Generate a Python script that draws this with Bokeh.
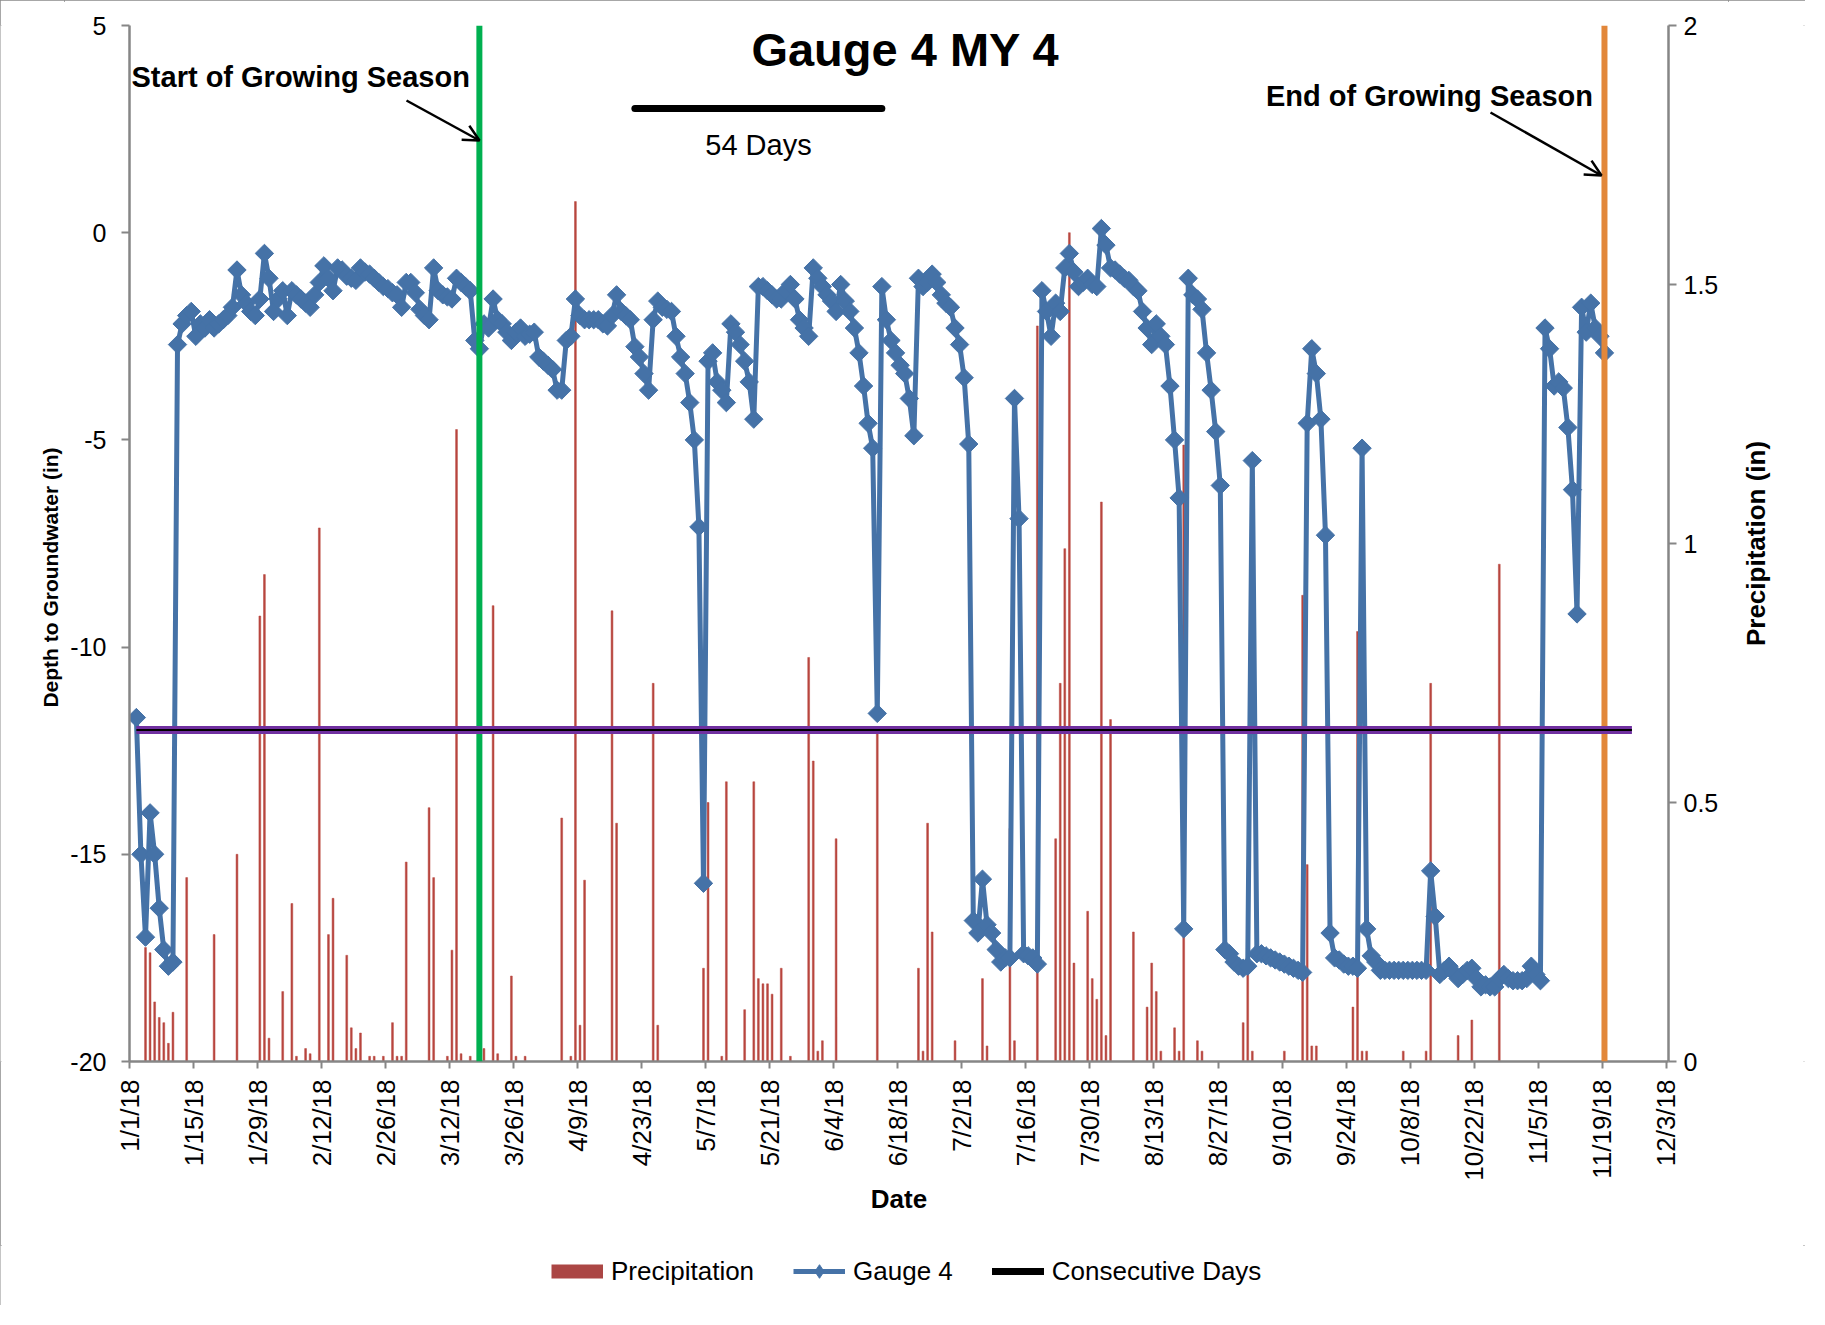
import math
from datetime import date

from bokeh.plotting import figure
from bokeh.layouts import column, row
from bokeh.models import (Range1d, LinearAxis, FixedTicker, PrintfTickFormatter, Span, Label,
                          Arrow, OpenHead, Legend, LegendItem)
from bokeh.embed import file_html
from bokeh.resources import INLINE

# ---------------- data ----------------
YEAR_START = date(2018, 1, 1)

x_tick_labels = ["1/1/18", "1/15/18", "1/29/18", "2/12/18", "2/26/18", "3/12/18", "3/26/18",
                 "4/9/18", "4/23/18", "5/7/18", "5/21/18", "6/4/18", "6/18/18", "7/2/18",
                 "7/16/18", "7/30/18", "8/13/18", "8/27/18", "9/10/18", "9/24/18", "10/8/18",
                 "10/22/18", "11/5/18", "11/19/18", "12/3/18"]
depth_ticks = [-20, -15, -10, -5, 0, 5]
precip_ticks = [0, 0.5, 1, 1.5, 2]

# Gauge 4 depth to groundwater (in), one reading per day starting 1/2/18
gauge_start = "1/2/18"
gauge_depth = [
    -11.7, -15.0, -17.0, -14.0, -15.0, -16.3, -17.3, -17.7, -17.6, -2.7,
    -2.2, -2.0, -1.9, -2.5, -2.2, -2.3, -2.1, -2.3, -2.2, -2.1,
    -2.0, -1.8, -0.9, -1.5, -1.7, -1.9, -2.0, -1.6, -0.5, -1.1,
    -1.9, -1.6, -1.4, -2.0, -1.4, -1.5, -1.6, -1.7, -1.8, -1.5,
    -1.2, -0.8, -1.1, -1.4, -0.85, -0.9, -1.05, -1.1, -1.15, -0.85,
    -0.95, -1.0, -1.1, -1.2, -1.3, -1.35, -1.45, -1.5, -1.8, -1.2,
    -1.2, -1.45, -1.85, -2.0, -2.1, -0.85, -1.4, -1.5, -1.55, -1.6,
    -1.1, -1.2, -1.3, -1.4, -2.6, -2.8, -2.2, -2.3, -1.6, -2.1,
    -2.2, -2.4, -2.6, -2.4, -2.3, -2.5, -2.45, -2.4, -3.0, -3.1,
    -3.2, -3.3, -3.8, -3.8, -2.6, -2.5, -1.6, -2.0, -2.1, -2.1,
    -2.1, -2.1, -2.2, -2.25, -2.0, -1.5, -1.9, -2.0, -2.1, -2.75,
    -3.0, -3.4, -3.8, -2.1, -1.65, -1.8, -1.85, -1.9, -2.5, -3.0,
    -3.4, -4.1, -5.0, -7.1, -15.7, -3.1, -2.9, -3.6, -3.8, -4.1,
    -2.2, -2.4, -2.7, -3.1, -3.6, -4.5, -1.3, -1.3, -1.4, -1.5,
    -1.6, -1.6, -1.4, -1.25, -1.6, -2.1, -2.3, -2.5, -0.85, -1.1,
    -1.3, -1.5, -1.65, -1.9, -1.25, -1.65, -1.9, -2.3, -2.9, -3.7,
    -4.6, -5.2, -11.6, -1.3, -2.1, -2.6, -2.9, -3.2, -3.4, -4.0,
    -4.9, -1.1, -1.3, -1.2, -1.0, -1.2, -1.5, -1.7, -1.8, -2.3,
    -2.7, -3.5, -5.1, -16.6, -16.9, -15.6, -16.7, -16.9, -17.3, -17.6,
    -17.5, -17.5, -4.0, -6.9, -17.4, -17.45, -17.5, -17.65, -1.4, -1.9,
    -2.5, -1.7, -1.9, -0.85, -0.5, -0.95, -1.3, -1.2, -1.1, -1.25,
    -1.3, 0.1, -0.3, -0.85, -0.9, -1.0, -1.1, -1.15, -1.3, -1.4,
    -1.9, -2.3, -2.7, -2.2, -2.5, -2.7, -3.7, -5.0, -6.4, -16.8,
    -1.1, -1.5, -1.6, -1.85, -2.9, -3.8, -4.8, -6.1, -17.3, -17.4,
    -17.6, -17.7, -17.75, -17.7, -5.5, -17.4, -17.4, -17.45, -17.5, -17.55,
    -17.6, -17.65, -17.7, -17.75, -17.8, -17.85, -4.6, -2.8, -3.4, -4.5,
    -7.3, -16.9, -17.5, -17.55, -17.65, -17.7, -17.7, -17.75, -5.2, -16.8,
    -17.45, -17.6, -17.8, -17.8, -17.8, -17.8, -17.8, -17.8, -17.8, -17.8,
    -17.8, -17.8, -17.8, -15.4, -16.5, -17.9, -17.8, -17.7, -17.85, -18.0,
    -17.9, -17.8, -17.75, -18.0, -18.2, -18.15, -18.2, -18.2, -18.0, -17.9,
    -18.0, -18.05, -18.05, -18.05, -18.0, -17.7, -17.9, -18.05, -2.3, -2.8,
    -3.7, -3.6, -3.75, -4.7, -6.2, -9.2, -1.8, -2.4, -1.7, -2.3,
    -2.5, -2.9,
]

# Daily precipitation (in); day of year counted from 1/1/18 = 0
precip_day = [3, 4, 5, 6, 7, 8, 9, 12, 18, 23, 28, 29, 30, 33, 35, 36, 38, 39, 41, 43, 44,
              47, 48, 49, 50, 52, 53, 55, 57, 58, 59, 60, 65, 66, 69, 70, 71, 72, 74, 77, 79,
              80, 83, 84, 86, 94, 96, 97, 98, 99, 105, 106, 114, 115, 125, 126, 129, 130, 134,
              136, 137, 138, 139, 140, 142, 144, 148, 149, 150, 151, 154, 163, 172, 173, 174,
              175, 180, 186, 187, 192, 193, 198, 202, 203, 204, 205, 206, 209, 210, 211, 212,
              213, 214, 219, 222, 223, 224, 225, 228, 229, 230, 233, 234, 243, 244, 245, 252,
              256, 257, 258, 259, 267, 268, 269, 270, 278, 283, 284, 290, 293, 299]
precip_in = [0.22, 0.21, 0.115, 0.085, 0.075, 0.035, 0.095, 0.355, 0.245, 0.40, 0.86, 0.94,
             0.045, 0.135, 0.305, 0.01, 0.025, 0.015, 1.03, 0.245, 0.315, 0.205, 0.065, 0.025,
             0.055, 0.01, 0.01, 0.01, 0.075, 0.01, 0.01, 0.385, 0.49, 0.355, 0.01, 0.215, 1.22,
             0.015, 0.01, 0.025, 0.88, 0.015, 0.165, 0.01, 0.01, 0.47, 0.01, 1.66, 0.07, 0.35,
             0.87, 0.46, 0.73, 0.07, 0.18, 0.50, 0.01, 0.54, 0.10, 0.54, 0.16, 0.15, 0.15, 0.13,
             0.18, 0.01, 0.78, 0.58, 0.02, 0.04, 0.43, 0.64, 0.18, 0.02, 0.46, 0.25, 0.04, 0.16,
             0.03, 0.45, 0.04, 1.42, 0.43, 0.73, 0.99, 1.60, 0.19, 0.29, 0.16, 0.12, 1.08, 0.05,
             0.66, 0.25, 0.105, 0.19, 0.135, 0.02, 0.065, 0.02, 1.19, 0.04, 0.02, 0.075, 0.30,
             0.02, 0.02, 0.90, 0.38, 0.03, 0.03, 0.105, 0.83, 0.02, 0.02, 0.02, 0.02, 0.73, 0.05,
             0.08, 0.96]

growing_season_start = "3/18/18"
growing_season_end = "11/19/18"
consecutive_dates = ["4/21/18", "6/14/18"]
consecutive_level = [3, 3]
consecutive_text = "54 Days"
threshold_dates = ["1/2/18", "11/25/18"]
threshold_level = [-12, -12]


def day_of(s):
    m, d, y = (int(v) for v in s.split("/"))
    return (date(2000 + y, m, d) - YEAR_START).days


MID = 0.5  # Excel date axis: each day sits in the middle of its slot

x_ticks = [day_of(s) for s in x_tick_labels]
gauge_x = [day_of(gauge_start) + i + MID for i in range(len(gauge_depth))]
precip_x = [d + MID for d in precip_day]
consec_x = [day_of(s) + MID for s in consecutive_dates]
thresh_x = [day_of(s) + MID for s in threshold_dates]

FONT = "Liberation Sans"
AX_COLOR = "#868686"
BLUE = "#4572A7"
RED = "#B8463F"
LEGEND_RED = "#AB4644"
W = 1805
H = 1245
W_LEFT = 64
W_RIGHT = 77
W_MAIN = W - W_LEFT - W_RIGHT


def blank_strip(width, height):
    f = figure(width=width, height=height, x_range=Range1d(0, 1), y_range=Range1d(0, 1),
               output_backend="svg", toolbar_location=None, x_axis_location=None,
               y_axis_location=None, min_border_left=0, min_border_right=0,
               min_border_top=0, min_border_bottom=0)
    f.grid.visible = False
    f.outline_line_color = None
    f.background_fill_color = "white"
    f.border_fill_color = "white"
    return f


# ---------------- main figure ----------------
p = figure(width=W_MAIN, height=H, x_range=Range1d(0, 336.5), y_range=Range1d(-20, 5),
           output_backend="svg", toolbar_location=None,
           min_border_left=65, min_border_right=60, min_border_top=25, min_border_bottom=184)
p.extra_y_ranges = {"precip": Range1d(0, 2)}
p.xgrid.visible = False
p.ygrid.visible = False
p.outline_line_color = None
p.background_fill_color = "white"
p.border_fill_color = "white"


def style_axis(ax):
    ax.axis_line_color = AX_COLOR
    ax.axis_line_width = 2.5
    ax.major_tick_line_color = AX_COLOR
    ax.major_tick_line_width = 2
    ax.major_tick_out = 8
    ax.major_tick_in = 0
    ax.minor_tick_line_color = None
    ax.major_label_text_font = FONT
    ax.major_label_text_font_size = "25px"
    ax.major_label_text_color = "black"
    ax.axis_label_text_font = FONT
    ax.axis_label_text_font_size = "26px"
    ax.axis_label_text_font_style = "bold"
    ax.axis_label_text_color = "black"


xaxis = p.xaxis[0]
style_axis(xaxis)
xaxis.ticker = FixedTicker(ticks=x_ticks)
xaxis.major_label_overrides = {t: lab for t, lab in zip(x_ticks, x_tick_labels)}
xaxis.major_label_orientation = math.pi / 2
xaxis.major_label_text_font_size = "26px"
xaxis.major_tick_out = 7
xaxis.major_label_standoff = 11
xaxis.axis_label = "Date"
xaxis.axis_label_standoff = 0

yaxis = p.yaxis[0]
style_axis(yaxis)
yaxis.ticker = FixedTicker(ticks=depth_ticks)
yaxis.formatter = PrintfTickFormatter(format="%d")
yaxis.major_label_standoff = 15

raxis = LinearAxis(y_range_name="precip", ticker=FixedTicker(ticks=precip_ticks),
                   formatter=PrintfTickFormatter(format="%g"))
style_axis(raxis)
raxis.major_label_standoff = 7
p.add_layout(raxis, "right")

# ---------------- glyphs ----------------
bars = p.vbar(x=precip_x, top=precip_in, bottom=0, width=0.4, y_range_name="precip",
              fill_color=RED, line_color=RED, line_width=0.5)

g_line = p.line(gauge_x, gauge_depth, line_color=BLUE, line_width=5)
g_mark = p.scatter(gauge_x, gauge_depth, marker="square", angle=math.pi / 4, size=13,
                   fill_color=BLUE, line_color=BLUE)

p.add_layout(Span(location=day_of(growing_season_start) + MID, dimension="height",
                  line_color="#00B050", line_width=6))
p.add_layout(Span(location=day_of(growing_season_end) + MID, dimension="height",
                  line_color="#E2873A", line_width=6))

purple = p.line(thresh_x, threshold_level, line_color="#7030A0", line_width=8)
purple.level = "overlay"
black_mid = p.line(thresh_x, threshold_level, line_color="black", line_width=2)
black_mid.level = "overlay"

consec = p.line(consec_x, consecutive_level, line_color="black", line_width=7, line_cap="round")

# ---------------- texts in the plot area ----------------
p.add_layout(Label(x=776, y=1012, x_units="screen", y_units="screen", text="Gauge 4 MY 4",
                   text_font=FONT, text_font_size="47px", text_font_style="bold",
                   text_align="center", text_baseline="middle", text_color="black"))
p.add_layout(Label(x=2, y=985, x_units="screen", y_units="screen", text="Start of Growing Season",
                   text_font=FONT, text_font_size="29px", text_font_style="bold",
                   text_align="left", text_baseline="middle", text_color="black"))
p.add_layout(Label(x=1300, y=966, x_units="screen", y_units="screen", text="End of Growing Season",
                   text_font=FONT, text_font_size="29px", text_font_style="bold",
                   text_align="center", text_baseline="middle", text_color="black"))
p.add_layout(Label(x=629, y=917, x_units="screen", y_units="screen", text=consecutive_text,
                   text_font=FONT, text_font_size="29px",
                   text_align="center", text_baseline="middle", text_color="black"))

p.add_layout(Arrow(x_start=277, y_start=961, x_end=350, y_end=921,
                   start_units="screen", end_units="screen", line_width=2.5, line_color="black",
                   end=OpenHead(size=16, line_width=2.5, line_color="black")))
p.add_layout(Arrow(x_start=1361, y_start=949, x_end=1472, y_end=886,
                   start_units="screen", end_units="screen", line_width=2.5, line_color="black",
                   end=OpenHead(size=16, line_width=2.5, line_color="black")))

# ---------------- axis titles in side strips (frames align with the main frame) ----------------
left_strip = blank_strip(W_LEFT, H)
left_strip.add_layout(Label(x=50, y=484, x_units="screen", y_units="screen",
                            text="Depth to Groundwater (in)", angle=math.pi / 2,
                            text_font=FONT, text_font_size="21px", text_font_style="bold",
                            text_align="center", text_baseline="middle", text_color="black"))

right_strip = blank_strip(W_RIGHT, H)
right_strip.add_layout(Label(x=27, y=518, x_units="screen", y_units="screen",
                             text="Precipitation (in)", angle=math.pi / 2,
                             text_font=FONT, text_font_size="26px", text_font_style="bold",
                             text_align="center", text_baseline="middle", text_color="black"))

# ---------------- legend strip (below the chart) ----------------
q = blank_strip(W, 60)
# legend swatches (drawn outside the strip's range, so only the legend shows them)
lg_bar = q.line([5, 6], [5, 5], line_color=LEGEND_RED, line_width=14, line_cap="butt")
lg_line = q.line([5, 6], [5, 5], line_color=BLUE, line_width=5)
lg_mark = q.scatter([5], [5], marker="diamond", size=13,
                    fill_color=BLUE, line_color=BLUE)
lg_consec = q.line([5, 6], [5, 5], line_color="black", line_width=7, line_cap="round")

legend = Legend(items=[LegendItem(label="Precipitation", renderers=[lg_bar]),
                       LegendItem(label="Gauge 4", renderers=[lg_line, lg_mark]),
                       LegendItem(label="Consecutive Days", renderers=[lg_consec])],
                orientation="horizontal", location=(551, 17),
                label_text_font=FONT, label_text_font_size="26px", label_text_color="black",
                glyph_width=52, glyph_height=34, label_height=30, label_standoff=8,
                spacing=39, padding=0, margin=0, border_line_color=None,
                background_fill_alpha=0)
q.add_layout(legend)

page = column(row(left_strip, p, right_strip, spacing=0), q, spacing=0)
page.styles = {"outline": "2px solid #8a8a8a", "outline-offset": "-2px"}

open("out.html", "w").write(file_html(page, INLINE))
